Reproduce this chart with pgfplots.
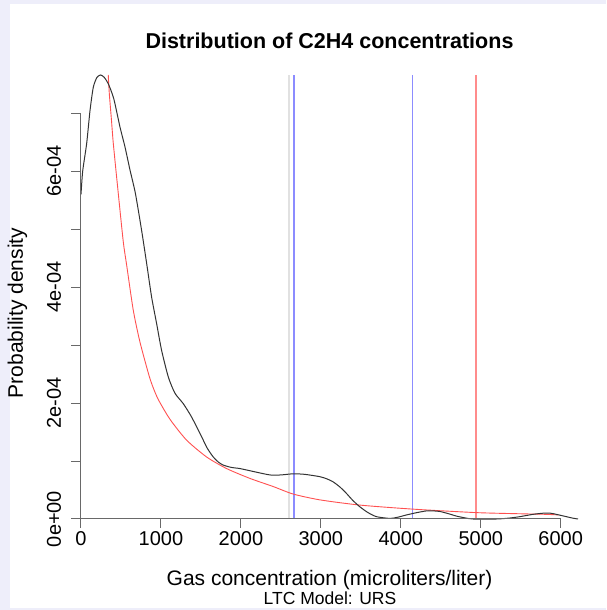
\documentclass[border=0pt]{standalone}
\usepackage{pgfplots}
\pgfplotsset{compat=1.18}
\usepackage{fontspec}
\setmainfont{Liberation Sans}
\definecolor{lav}{RGB}{238,238,250}
\definecolor{vgray}{RGB}{225,225,225}
\definecolor{vblue}{RGB}{140,140,255}
\definecolor{vred}{RGB}{255,140,140}
\definecolor{fitred}{RGB}{255,80,80}
\definecolor{axgray}{RGB}{105,105,105}
\begin{document}
\begin{tikzpicture}[x=1pt,y=1pt]
\fill[lav] (0,0) rectangle (606,610);
\fill[white] (10,2) rectangle (606,606);
\begin{axis}[
  at={(81pt,91pt)}, anchor=south west,
  scale only axis, width=497pt, height=444pt,
  xmin=0, xmax=6216, ymin=0, ymax=7.66e-4,
  hide axis, clip=false,
]
% vertical reference lines
\addplot[vgray, line width=1.5pt] coordinates {(2604,0) (2604,7.66e-4)};
\addplot[vblue, line width=1.5pt] coordinates {(2666,0) (2666,7.66e-4)};
\addplot[vblue, line width=1.5pt] coordinates {(4146,0) (4146,7.66e-4)};
\addplot[vred, line width=1.5pt] coordinates {(4938,0) (4938,7.66e-4)};
% fitted density (red)
\addplot[fitred, line width=0.9pt, smooth, tension=0.4] coordinates {
(341,7.66e-4) (354,7.34e-4) (380,6.90e-4) (404,6.48e-4) (466,5.62e-4) (529,4.78e-4)
(571,4.38e-4) (654,3.60e-4) (738,3.05e-4) (863,2.42e-4) (960,2.08e-4) (1113,1.72e-4)
(1321,1.36e-4) (1571,1.07e-4) (1821,0.87e-4) (2113,0.70e-4) (2404,0.56e-4) (2654,0.43e-4)
(2988,0.33e-4) (3488,0.24e-4) (4154,0.17e-4) (4946,0.11e-4) (5500,0.09e-4) (5821,0.08e-4)
(5970,0.07e-4)};
% kernel density (black)
\addplot[black!80, line width=1pt, smooth, tension=0.4] coordinates {
(0,5.60e-4) (21,6.00e-4) (71,6.48e-4) (113,7.05e-4) (154,7.45e-4) (200,7.62e-4)
(246,7.66e-4) (290,7.62e-4) (341,7.51e-4) (410,7.25e-4) (488,6.76e-4) (550,6.42e-4)
(613,6.02e-4) (680,5.62e-4) (758,4.98e-4) (821,4.41e-4) (883,3.83e-4) (946,3.37e-4)
(1008,2.91e-4) (1092,2.45e-4) (1175,2.17e-4) (1279,1.99e-4) (1383,1.76e-4) (1508,1.42e-4)
(1580,1.22e-4) (1654,1.07e-4)
(1720,0.98e-4) (1779,0.93e-4) (1880,0.89e-4) (1988,0.87e-4) (2154,0.82e-4) (2363,0.76e-4)
(2500,0.76e-4) (2654,0.78e-4) (2800,0.77e-4) (2988,0.73e-4) (3080,0.69e-4) (3154,0.64e-4)
(3240,0.55e-4) (3321,0.44e-4) (3400,0.32e-4) (3488,0.21e-4) (3590,0.11e-4) (3696,0.04e-4)
(3863,0.01e-4) (3960,0.03e-4) (4071,0.07e-4) (4200,0.11e-4) (4321,0.14e-4) (4400,0.14e-4)
(4488,0.13e-4) (4600,0.09e-4) (4696,0.05e-4) (4800,0.02e-4) (4904,0.00) (5196,0.00)
(5350,0.015e-4) (5488,0.04e-4) (5650,0.08e-4) (5779,0.10e-4) (5870,0.10e-4) (5946,0.08e-4)
(6071,0.04e-4) (6150,0.015e-4) (6216,0.0)};
% axes (R style)
\draw[axgray, line width=1pt] (axis cs:0,0) -- (axis cs:6000,0);
\pgfplotsinvokeforeach{0,1000,2000,3000,4000,5000,6000}{
  \draw[axgray, line width=1pt] (axis cs:#1,0) -- ++(0,-9pt);
  \node[anchor=base, font=\fontsize{20}{24}\selectfont] at ([yshift=-26pt]axis cs:#1,0) {#1};
}
\draw[axgray, line width=1pt] (axis cs:0,0) -- (axis cs:0,7e-4);
\pgfplotsinvokeforeach{0,1,2,3,4,5,6,7}{
  \draw[axgray, line width=1pt] (axis cs:0,#1e-4) -- ++(-10pt,0);
}
\node[anchor=base, rotate=90, font=\fontsize{20}{24}\selectfont] at ([xshift=-20pt]axis cs:0,0) {0e+00};
\node[anchor=base, rotate=90, font=\fontsize{20}{24}\selectfont] at ([xshift=-20pt]axis cs:0,2e-4) {2e-04};
\node[anchor=base, rotate=90, font=\fontsize{20}{24}\selectfont] at ([xshift=-20pt]axis cs:0,4e-4) {4e-04};
\node[anchor=base, rotate=90, font=\fontsize{20}{24}\selectfont] at ([xshift=-20pt]axis cs:0,6e-4) {6e-04};
\end{axis}
\node[anchor=base, font=\bfseries\fontsize{21.5}{26}\selectfont] at (329.5,561.7) {Distribution of C2H4 concentrations};
\node[anchor=base, inner sep=0pt, font=\fontsize{21}{25}\selectfont] at (329.5,24) {Gas concentration (microliters/liter)};
\node[anchor=base, inner sep=0pt, font=\fontsize{17.5}{21}\selectfont] at (330,5.5) {LTC Model: URS};
\node[anchor=base, rotate=90, font=\fontsize{21}{25}\selectfont] at (23,297) {Probability density};
\end{tikzpicture}
\end{document}
